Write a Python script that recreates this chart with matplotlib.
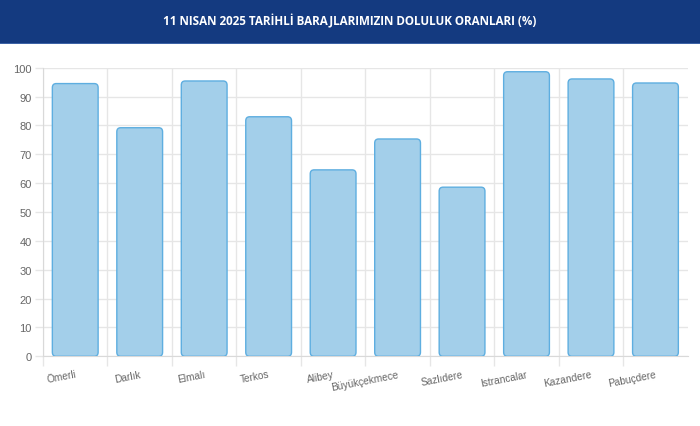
import matplotlib
matplotlib.use("Agg")
import matplotlib.pyplot as plt
from matplotlib.patches import FancyBboxPatch, Rectangle
from matplotlib.transforms import ScaledTranslation
import numpy as np

# Baraj doluluk oranları (11 Nisan 2025)
barajlar = ["Ömerli", "Darlık", "Elmalı", "Terkos", "Alibey", "Büyükçekmece",
            "Sazlıdere", "Istrancalar", "Kazandere", "Pabuçdere"]
doluluk = [94.5, 79.2, 95.4, 83.0, 64.6, 75.3, 58.6, 98.6, 96.1, 94.7]
y_ticks = [0, 10, 20, 30, 40, 50, 60, 70, 80, 90, 100]
baslik = "11 NISAN 2025 TARİHLİ BARAJLARIMIZIN DOLULUK ORANLARI (%)"

BAR_FILL = "#a3cfea"
BAR_EDGE = "#5eaee0"
GRID = "#e6e6e6"
TICK_TXT = "#666666"

plt.rcParams["font.family"] = ["Liberation Sans", "DejaVu Sans"]

fig = plt.figure(figsize=(7, 4.27), dpi=100)

# Başlık bandı
fig.patches.append(Rectangle((0, 1 - 44 / 427), 1, 44 / 427, transform=fig.transFigure,
                             facecolor="#143a80", edgecolor="none", zorder=0))
fig.patches.append(Rectangle((0, 1 - 45 / 427), 1, 1.5 / 427, transform=fig.transFigure,
                             facecolor="#3d63a6", edgecolor="none", zorder=0))
fig.text(0.5, 1 - 21 / 427, baslik, color="white", ha="center", va="center",
         fontsize=8.4, fontweight="bold", family=["Open Sans", "DejaVu Sans"])

ax = fig.add_axes([43 / 700, 1 - 357.3 / 427, (687.7 - 43) / 700, (357.3 - 68.7) / 427])

x = np.arange(len(barajlar))
w = 0.71
for xi, v in zip(x, doluluk):
    ax.add_patch(FancyBboxPatch((xi - w / 2, 0), w, v,
                                boxstyle="round,pad=0,rounding_size=0.06",
                                mutation_aspect=1 / (0.06 / 1.4),
                                facecolor=BAR_FILL, edgecolor=BAR_EDGE, linewidth=1.0,
                                zorder=3))

ax.set_xlim(-0.5, len(barajlar) - 0.5)
ax.set_ylim(0, 100)
ax.set_yticks(y_ticks)
ax.set_yticklabels([str(t) for t in y_ticks])

ax.set_xticks(x)
ax.set_xticklabels(barajlar, rotation=11, ha="right", va="top", rotation_mode="anchor")
ax.set_xticks(np.arange(-0.5, len(barajlar) - 0.5, 1.0), minor=True)

# etiketleri biraz sağa kaydır
shift = ScaledTranslation(2 / 100, 0, fig.dpi_scale_trans)
for lbl in ax.get_xticklabels():
    lbl.set_transform(lbl.get_transform() + shift)

ax.tick_params(axis="x", which="major", length=0, pad=9, labelsize=7.3, labelcolor=TICK_TXT)
ax.tick_params(axis="x", which="minor", length=7, color=GRID, width=1)
ax.tick_params(axis="y", length=6, color=GRID, width=1, pad=2, labelsize=8, labelcolor=TICK_TXT)

ax.grid(True, axis="y", color=GRID, linewidth=1, zorder=0)
ax.grid(True, axis="x", which="minor", color=GRID, linewidth=1, zorder=0)
ax.set_axisbelow(True)

for s in ["top", "right"]:
    ax.spines[s].set_visible(False)
ax.spines["left"].set_color("#d9d9d9")
ax.spines["bottom"].set_color("#d9d9d9")

fig.savefig("out.png", dpi=100)
